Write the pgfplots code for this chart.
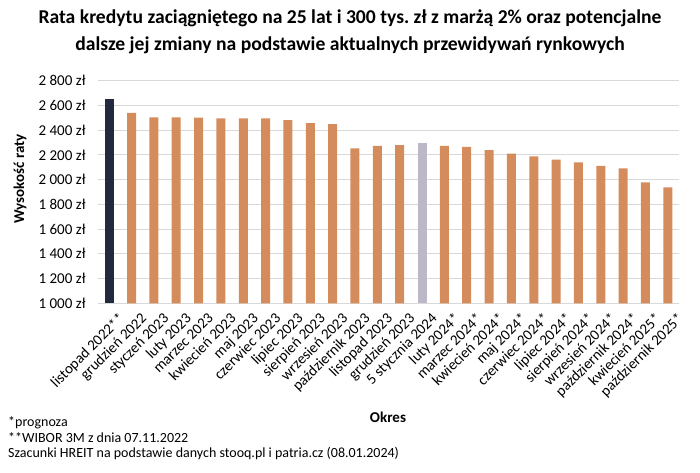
\documentclass[border=0pt]{standalone}
\usepackage{pgfplots}
\pgfplotsset{compat=1.18}
\usepackage{fontspec}
\setmainfont{Carlito}
\frenchspacing
\definecolor{navy}{HTML}{232A3E}
\definecolor{orng}{HTML}{D48C5C}
\definecolor{gry}{HTML}{BCB8C8}
\definecolor{gridc}{HTML}{D9D9D9}
\begin{document}
\begin{tikzpicture}[x=1pt,y=1pt]
\path[use as bounding box] (0,0) rectangle (700,472);
\begin{axis}[
  at={(98pt,168.7pt)}, anchor=south west,
  width=581pt, height=222.6pt, scale only axis,
  xmin=-0.5, xmax=25.5, ymin=1000, ymax=2800,
  ytick={1000,1200,...,2800},
  yticklabels={1 000 zł,1 200 zł,1 400 zł,1 600 zł,1 800 zł,2 000 zł,2 200 zł,2 400 zł,2 600 zł,2 800 zł},
  xtick={0,...,25},
  xticklabels={listopad 2022**,grudzień 2022,styczeń 2023,luty 2023,marzec 2023,kwiecień 2023,maj 2023,czerwiec 2023,lipiec 2023,sierpień 2023,wrzesień 2023,październik 2023,listopad 2023,grudzień 2023,5 stycznia 2024,luty 2024*,marzec 2024*,kwiecień 2024*,maj 2024*,czerwiec 2024*,lipiec 2024*,sierpień 2024*,wrzesień 2024*,październik 2024*,kwiecień 2025*,październik 2025*},
  x tick label style={rotate=45, anchor=north east, font=\fontsize{15}{16}\selectfont, inner sep=1pt, xshift=1pt, yshift=-11pt},
  y tick label style={font=\fontsize{15}{16}\selectfont, anchor=east, xshift=-9pt},
  major tick length=0pt,
  ymajorgrids, grid style={draw=gridc, line width=1pt},
  axis line style={draw=none},
  clip=false,
  ybar, bar width=9pt,
]
\addplot[ybar, bar shift=0pt, fill=navy, draw=none] coordinates {(0,2650)};
\addplot[ybar, bar shift=0pt, fill=orng, draw=none] coordinates {
(1,2539) (2,2503) (3,2503) (4,2502) (5,2495) (6,2495) (7,2495) (8,2481) (9,2456) (10,2449)
(11,2253) (12,2272) (13,2280) (15,2272) (16,2264) (17,2239) (18,2210) (19,2188)
(20,2161) (21,2140) (22,2112) (23,2091) (24,1978) (25,1938)};
\addplot[ybar, bar shift=0pt, fill=gry, draw=none] coordinates {(14,2296)};
\end{axis}
\node[font=\fontsize{19.6}{27}\selectfont\bfseries, align=center] at (350,440.5) {Rata kredytu zaciągniętego na 25 lat i 300 tys. zł z marżą 2\% oraz potencjalne\\dalsze jej zmiany na podstawie aktualnych przewidywań rynkowych};
\node[font=\fontsize{15}{16}\selectfont\bfseries, rotate=90] at (20,293) {Wysokość raty};
\node[font=\fontsize{15}{16}\selectfont\bfseries] at (388,55) {Okres};
\node[font=\fontsize{14}{15}\selectfont, anchor=west, inner sep=0pt] at (8,49) {*prognoza};
\node[font=\fontsize{14}{15}\selectfont, anchor=west, inner sep=0pt] at (8,34) {**WIBOR 3M z dnia 07.11.2022};
\node[font=\fontsize{14}{15}\selectfont, anchor=west, inner sep=0pt] at (8,18) {Szacunki HREIT na podstawie danych stooq.pl i patria.cz (08.01.2024)};
\end{tikzpicture}
\end{document}
